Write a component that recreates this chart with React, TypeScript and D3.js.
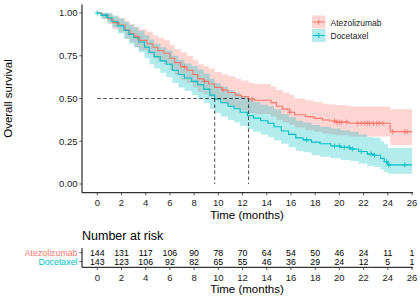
import React, { useEffect, useRef } from 'react';
import * as d3 from 'd3';

// survival curves (step after each time)
const atezoTime = [0, 0.4, 0.9, 1.3, 1.8, 2.3, 2.7, 3.1, 3.5, 4.1, 4.6, 5.0, 5.5, 6.0, 6.4, 6.9, 7.4, 7.9, 8.3, 8.8, 9.2, 9.7, 10.3, 10.8, 11.4, 11.9, 12.5, 13.0, 14.35, 14.8, 15.3, 15.9, 16.3, 17.2, 17.9, 18.6, 19.2, 19.7, 20.8, 24.2];
const atezoSurv = [1, .986, .965, .944, .93, .90, .88, .86, .84, .82, .80, .78, .765, .735, .71, .685, .665, .64, .615, .60, .585, .565, .55, .535, .52, .51, .497, .49, .476, .455, .438, .42, .405, .394, .384, .374, .368, .362, .355, .306];
const atezoLower = [1, .965, .935, .905, .89, .85, .83, .80, .78, .76, .735, .715, .70, .665, .64, .61, .59, .565, .54, .525, .51, .49, .47, .455, .44, .43, .415, .41, .395, .375, .36, .345, .33, .315, .305, .295, .29, .285, .278, .228];
const atezoUpper = [1, 1, .995, .98, .97, .95, .935, .92, .905, .89, .87, .855, .84, .815, .79, .77, .75, .725, .70, .69, .675, .655, .64, .63, .615, .605, .59, .585, .57, .55, .535, .52, .50, .49, .48, .47, .465, .46, .453, .437];
const atezoCensor = [1.6, 3.3, 7.2, 8.85, 10.4, 12.8, 15.9, 19.6, 19.8, 20.0, 20.2, 20.6, 21.5, 21.8, 22.1, 22.3, 22.5, 22.8, 23.1, 23.3, 23.6, 24.4, 25.4, 25.6];

const doceTime = [0, 0.3, 0.8, 1.2, 1.7, 2.2, 2.6, 3.0, 3.4, 3.9, 4.3, 4.7, 5.2, 5.7, 6.2, 6.7, 7.2, 7.8, 8.3, 8.8, 9.3, 9.7, 10.2, 10.8, 11.3, 11.8, 12.4, 12.9, 13.5, 14.1, 14.6, 15.2, 15.8, 16.4, 17.0, 17.7, 18.4, 19.3, 20.1, 20.9, 21.6, 22.3, 22.8, 23.4, 23.7, 24.0];
const doceSurv = [1, .986, .972, .95, .925, .90, .875, .855, .83, .80, .77, .745, .72, .70, .665, .64, .62, .60, .58, .555, .52, .497, .475, .455, .44, .42, .40, .385, .37, .355, .335, .31, .29, .27, .258, .245, .235, .222, .214, .205, .19, .175, .168, .15, .13, .112];
const doceLower = [1, .965, .945, .915, .88, .85, .82, .80, .77, .735, .70, .675, .65, .625, .59, .565, .545, .52, .50, .475, .44, .415, .395, .375, .36, .34, .32, .305, .29, .275, .255, .235, .215, .195, .185, .17, .16, .15, .14, .135, .12, .105, .10, .085, .07, .06];
const doceUpper = [1, 1, 1, .985, .97, .95, .93, .915, .895, .87, .845, .82, .80, .78, .75, .725, .705, .69, .67, .645, .615, .59, .57, .55, .535, .515, .495, .48, .465, .455, .435, .41, .39, .37, .36, .345, .335, .325, .315, .305, .29, .275, .27, .25, .235, .21];
const doceCensor = [0, 0.75, 17.3, 19.6, 20.0, 20.4, 20.8, 21.1, 21.8, 22.6, 22.9, 23.9, 24.1, 25.4];

const maxTime = 26;
const medians = [9.7, 12.5]; // docetaxel, atezolizumab

// number at risk
const riskTimes = [0, 2, 4, 6, 8, 10, 12, 14, 16, 18, 20, 22, 24, 26];
const atezoRisk = [144, 131, 117, 106, 90, 78, 70, 64, 54, 50, 46, 24, 11, 1];
const doceRisk = [143, 123, 106, 92, 82, 65, 55, 46, 36, 29, 24, 12, 5, 1];

const yTicks = [0, 0.25, 0.5, 0.75, 1];

const RED = "#F8766D";
const TEAL = "#00BFC4";
const FONT = "'Liberation Sans', Arial, sans-serif";

const KMChart = () => {
  const svgRef = useRef<SVGSVGElement>(null);

  useEffect(() => {
    const svg = d3.select(svgRef.current);
    svg.selectAll("*").remove();
    svg.style("font-family", FONT);

    const x = d3.scaleLinear().domain([0, 26]).range([97.3, 412]);
    const y = d3.scaleLinear().domain([0, 1]).range([184, 13]);
    const axisLeftX = 82;
    const axisBottomY = 192.7;

    const groups = [
      { name: "Atezolizumab", color: RED, time: atezoTime, surv: atezoSurv, lo: atezoLower, hi: atezoUpper, censor: atezoCensor },
      { name: "Docetaxel", color: TEAL, time: doceTime, surv: doceSurv, lo: doceLower, hi: doceUpper, censor: doceCensor },
    ];

    const rows = (g) => {
      const r = g.time.map((t, i) => ({ t, s: g.surv[i], lo: g.lo[i], hi: g.hi[i] }));
      const last = r[r.length - 1];
      r.push({ ...last, t: maxTime });
      return r;
    };

    const area = d3.area<any>()
      .curve(d3.curveStepAfter)
      .x(d => x(d.t))
      .y0(d => y(d.lo))
      .y1(d => y(d.hi));

    const line = d3.line<any>()
      .curve(d3.curveStepAfter)
      .x(d => x(d.t))
      .y(d => y(d.s));

    // Bandes de confiance
    groups.forEach(g => {
      svg.append("path")
        .attr("d", area(rows(g)))
        .attr("fill", g.color)
        .attr("fill-opacity", 0.3);
    });

    // Courbes
    groups.forEach(g => {
      const r = rows(g);
      svg.append("path")
        .attr("d", line(r))
        .attr("fill", "none")
        .attr("stroke", g.color)
        .attr("stroke-width", 1.1);

      const survAt = (t) => {
        let s = 1;
        r.forEach(d => { if (d.t <= t) s = d.s; });
        return s;
      };
      g.censor.forEach(t => {
        const cx = x(t), cy = y(survAt(t));
        svg.append("path")
          .attr("d", `M${cx - 2.5},${cy}H${cx + 2.5}M${cx},${cy - 2.5}V${cy + 2.5}`)
          .attr("stroke", g.color)
          .attr("stroke-width", 0.9);
      });
    });

    // Médianes
    const dash = "3.5,2.5";
    svg.append("line")
      .attr("x1", x(0)).attr("x2", x(d3.max(medians)))
      .attr("y1", y(0.5)).attr("y2", y(0.5))
      .attr("stroke", "#000").attr("stroke-width", 0.7).attr("stroke-dasharray", dash);
    medians.forEach(m => {
      svg.append("line")
        .attr("x1", x(m)).attr("x2", x(m))
        .attr("y1", y(0.5)).attr("y2", y(0))
        .attr("stroke", "#000").attr("stroke-width", 0.7).attr("stroke-dasharray", dash);
    });

    // Axes principaux
    const axisColor = "#000";
    svg.append("line").attr("x1", axisLeftX).attr("x2", axisLeftX).attr("y1", 4.5).attr("y2", axisBottomY)
      .attr("stroke", axisColor).attr("stroke-width", 1);
    svg.append("line").attr("x1", axisLeftX).attr("x2", x(26) + 1).attr("y1", axisBottomY).attr("y2", axisBottomY)
      .attr("stroke", axisColor).attr("stroke-width", 1);

    yTicks.forEach(v => {
      svg.append("line").attr("x1", axisLeftX - 2.7).attr("x2", axisLeftX).attr("y1", y(v)).attr("y2", y(v))
        .attr("stroke", "#333").attr("stroke-width", 0.8);
      svg.append("text").attr("x", axisLeftX - 4.5).attr("y", y(v) + 3.3)
        .attr("text-anchor", "end").attr("font-size", 9.5).attr("fill", "#222").text(v.toFixed(2));
    });

    const xAxisTicks = (ay, labelY, titleY) => {
      riskTimes.forEach(t => {
        svg.append("line").attr("x1", x(t)).attr("x2", x(t)).attr("y1", ay).attr("y2", ay + 2.7)
          .attr("stroke", "#333").attr("stroke-width", 0.8);
        svg.append("text").attr("x", x(t)).attr("y", labelY)
          .attr("text-anchor", "middle").attr("font-size", 9.5).attr("fill", "#222").text(t);
      });
      svg.append("text").attr("x", (axisLeftX + x(26)) / 2).attr("y", titleY)
        .attr("text-anchor", "middle").attr("font-size", 11.5).attr("fill", "#000").text("Time (months)");
    };
    xAxisTicks(axisBottomY, 205.5, 218.5);

    svg.append("text")
      .attr("transform", `translate(12, ${(y(1) + y(0)) / 2}) rotate(-90)`)
      .attr("text-anchor", "middle").attr("font-size", 11.5).text("Overall survival");

    // Légende
    const legend = svg.append("g").attr("transform", "translate(312, 15.5)");
    groups.forEach((g, i) => {
      const row = legend.append("g").attr("transform", `translate(0, ${i * 13.5})`);
      row.append("rect").attr("width", 13.5).attr("height", 13).attr("fill", g.color).attr("fill-opacity", 0.3);
      row.append("path").attr("d", "M0.5,6.5H13M6.75,4V9").attr("stroke", g.color).attr("stroke-width", 1.1);
      row.append("text").attr("x", 18.5).attr("y", 10).attr("font-size", 8.5).attr("fill", "#222").text(g.name);
    });

    // Table des effectifs
    svg.append("text").attr("x", 82).attr("y", 239.5).attr("font-size", 12.5).text("Number at risk");
    const riskRows = [
      { name: "Atezolizumab", color: RED, values: atezoRisk, cy: 252.7 },
      { name: "Docetaxel", color: TEAL, values: doceRisk, cy: 261.7 },
    ];
    const tableBottom = 267.3;
    svg.append("line").attr("x1", axisLeftX).attr("x2", axisLeftX).attr("y1", 248).attr("y2", tableBottom)
      .attr("stroke", axisColor).attr("stroke-width", 1);
    svg.append("line").attr("x1", axisLeftX).attr("x2", x(26) + 1).attr("y1", tableBottom).attr("y2", tableBottom)
      .attr("stroke", axisColor).attr("stroke-width", 1);
    riskRows.forEach(r => {
      svg.append("line").attr("x1", axisLeftX - 2.7).attr("x2", axisLeftX).attr("y1", r.cy).attr("y2", r.cy)
        .attr("stroke", "#333").attr("stroke-width", 0.8);
      svg.append("text").attr("x", axisLeftX - 4.5).attr("y", r.cy + 3.2)
        .attr("text-anchor", "end").attr("font-size", 8.8).attr("fill", r.color).text(r.name);
      r.values.forEach((v, i) => {
        svg.append("text").attr("x", x(riskTimes[i])).attr("y", r.cy + 3.2)
          .attr("text-anchor", "middle").attr("font-size", 8.8).attr("fill", "#000").text(v);
      });
    });
    xAxisTicks(tableBottom, 280.5, 292.5);
  }, []);

  return <svg ref={svgRef} width={420} height={300} style={{ display: "block" }}></svg>;
};

export default function App() {
  return (
    <div style={{ position: "absolute", left: 0, top: 0 }}>
      <KMChart />
    </div>
  );
}
